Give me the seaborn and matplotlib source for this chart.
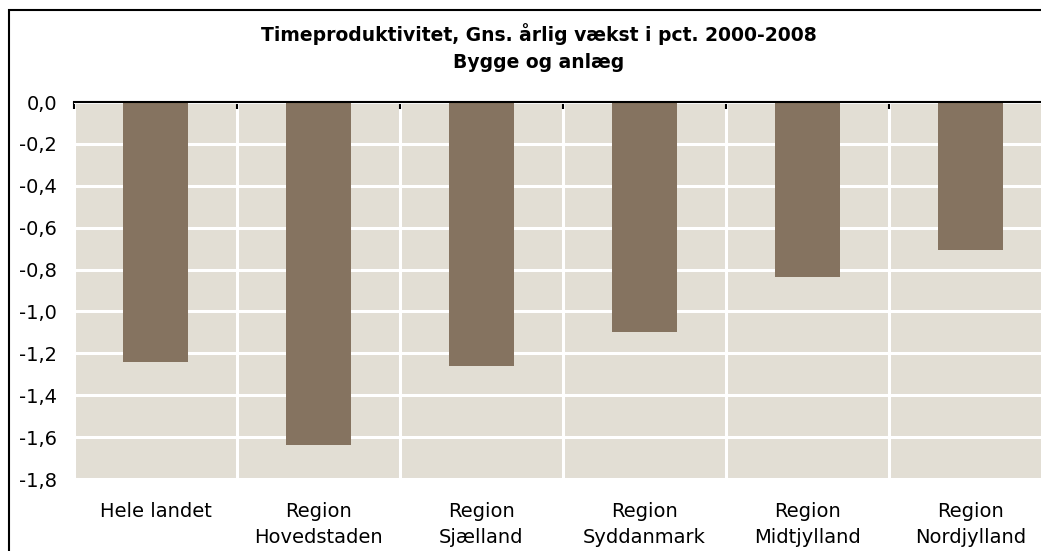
import matplotlib
matplotlib.use("Agg")
import matplotlib.pyplot as plt
import seaborn as sns
from matplotlib.patches import Rectangle
from matplotlib.ticker import FuncFormatter

regions = ["Hele landet", "Region\nHovedstaden", "Region\nSjælland",
           "Region\nSyddanmark", "Region\nMidtjylland", "Region\nNordjylland"]
growth = [-1.24, -1.64, -1.26, -1.10, -0.835, -0.705]
y_ticks = [0.0, -0.2, -0.4, -0.6, -0.8, -1.0, -1.2, -1.4, -1.6, -1.8]

title_line1 = "Timeproduktivitet, Gns. årlig vækst i pct. 2000-2008"
title_line2 = "Bygge og anlæg"

sns.set_theme(style="white")
plt.rcParams['font.family'] = ['DejaVu Sans']

W, H = 1041, 551
fig = plt.figure(figsize=(W / 100, H / 100), dpi=100)
ax = fig.add_axes([74 / W, 1 - 479 / H, (1052 - 74) / W, (479 - 102) / H])
ax.set_facecolor("#E2DED4")

sns.barplot(x=regions, y=growth, color="#857360", saturation=1, width=0.4,
            linewidth=0, ax=ax, zorder=3)

ax.set_ylim(-1.8, 0)
ax.set_xlim(-0.5, len(regions) - 0.5)
ax.set_yticks(y_ticks)
ax.yaxis.set_major_formatter(FuncFormatter(lambda v, p: f"{v:.1f}".replace(".", ",")))
ax.set_xticks(range(len(regions)))
ax.set_xticks([i - 0.5 for i in range(len(regions) + 1)], minor=True)

ax.grid(axis="y", which="major", color="white", linewidth=2.2, zorder=1)
ax.grid(axis="x", which="minor", color="white", linewidth=2.2, zorder=1)
ax.grid(axis="x", which="major", visible=False)
ax.set_axisbelow(True)

for side in ["left", "right", "bottom"]:
    ax.spines[side].set_visible(False)
ax.spines["top"].set_visible(True)
ax.spines["top"].set_color("black")
ax.spines["top"].set_linewidth(1.5)
ax.spines["top"].set_zorder(5)

ax.tick_params(axis="y", length=0, pad=12, labelsize=14, labelcolor="black")
ax.tick_params(axis="x", which="major", length=0, pad=16.5, labelsize=14, labelcolor="black")
ax.tick_params(axis="x", which="minor", top=True, bottom=False, direction="in",
               length=5, width=1.5, color="black")
for lab in ax.get_xticklabels():
    lab.set_linespacing(1.45)
ax.set_xlabel("")
ax.set_ylabel("")

fig.text(539 / W, 1 - 34 / H, title_line1, ha="center", va="center",
         fontsize=13.5, fontweight="bold", color="black")
fig.text(539 / W, 1 - 63 / H, title_line2, ha="center", va="center",
         fontsize=13.5, fontweight="bold", color="black")

border = Rectangle((9 / W, -0.2), 1.2, 1.2 - 10 / H, transform=fig.transFigure,
                   fill=False, edgecolor="black", linewidth=1.5, clip_on=False)
fig.patches.append(border)

fig.savefig("out.png", dpi=100)
